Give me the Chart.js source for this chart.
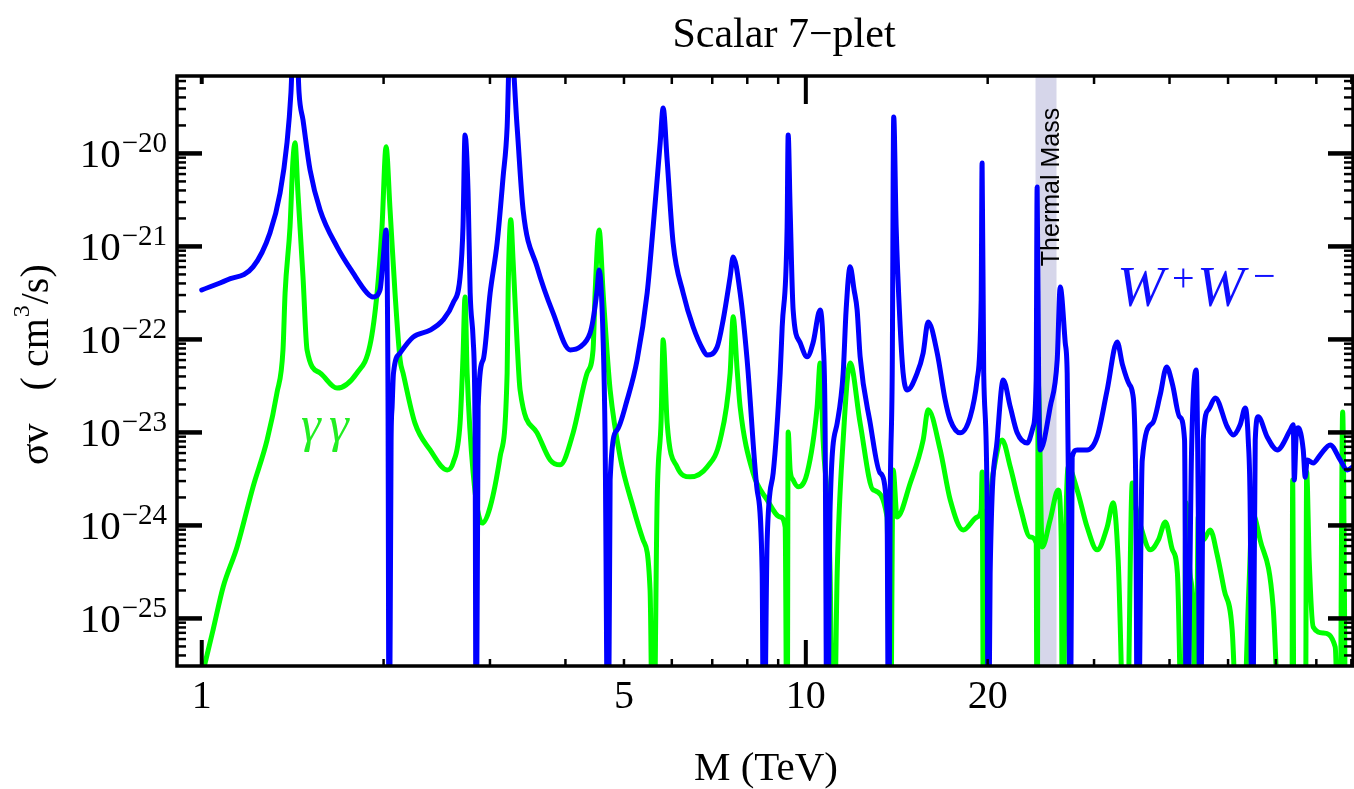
<!DOCTYPE html>
<html>
<head>
<meta charset="utf-8">
<script src="https://cdn.jsdelivr.net/npm/chart.js@4.4.1/dist/chart.umd.min.js"></script>
<style>
html,body{margin:0;padding:0;background:#ffffff;}
canvas{display:block;}
</style>
</head>
<body>
<canvas id="c" width="1354" height="789"></canvas>
<script>
// ---------------- data (M in TeV, sigma v in cm^3/s) ----------------
const massWW = [1.000,1.101,1.216,1.297,1.348,1.384,1.405,1.427,1.449,1.471,1.511,1.570,1.675,1.780,1.878,1.921,1.973,1.996,2.019,2.034,2.043,2.058,2.066,2.077,2.130,2.238,2.388,2.509,2.607,2.677,2.707,2.728,2.760,2.782,2.814,2.835,2.846,2.868,2.923,3.002,3.083,3.154,3.203,3.239,3.327,3.404,3.590,3.815,4.073,4.231,4.394,4.444,4.513,4.548,4.618,4.653,4.707,4.743,4.871,5.060,5.257,5.462,5.588,5.740,5.805,5.894,6.030,6.265,6.509,6.761,6.865,7.132,7.297,7.494,7.581,7.785,7.995,8.306,8.467,8.514,8.630,8.830,9.069,9.138,9.312,9.349,9.420,9.528,9.786,10.05,10.28,10.56,10.68,10.76,10.85,10.97,11.27,11.53,11.66,11.84,12.02,12.16,12.30,12.78,13.27,13.63,13.71,13.79,13.90,13.98,14.11,14.33,14.49,14.72,15.29,15.64,15.94,16.50,17.01,17.34,18.01,18.71,19.21,19.51,19.58,19.70,19.96,20.04,20.19,20.74,21.22,21.80,22.38,23.25,23.79,24.06,24.15,24.29,24.43,25.38,26.07,26.37,26.88,27.08,27.24,27.39,27.60,28.13,29.22,30.36,31.54,32.76,33.44,34.35,34.74,35.15,35.42,36.05,37.50,38.60,39.56,40.47,41.57,42.36,42.68,43.51,44.29,44.63,44.97,45.49,46.37,47.62,49.84,51.00,52.36,53.38,54.00,54.41,54.83,55.46,56.09,58.04,60.30,63.38,64.11,64.35,64.84,65.34,66.59,67.10,67.61,69.17,71.04,73.81,76.67,78.75,80.87];
const sigmaWW = [3.40e-22,4.36e-22,6.03e-22,1.40e-21,3.76e-21,1.30e-20,4.5e-20,5e-19,4.5e-20,2.29e-20,6.65e-21,2.47e-21,9.9e-22,5.19e-22,3.16e-22,2.86e-22,3.40e-22,7.16e-22,1.50e-21,2.23e-23,1e-27,8.1e-24,1.88e-23,4.36e-23,7.16e-23,1.06e-22,1.26e-22,1.62e-22,2.47e-22,4.70e-22,1.62e-21,1.58e-20,3.76e-21,3.16e-22,9.9e-23,8.3e-24,1e-27,1.88e-23,6.03e-23,3.16e-22,1.09e-21,5.58e-21,1.93e-20,2e-19,1.93e-20,2.47e-21,6.03e-22,1.93e-22,7.71e-23,8.3e-23,1.17e-22,1.62e-22,3.40e-22,5.58e-22,9.9e-23,8.3e-24,1e-27,3.08e-24,1.06e-23,2.23e-23,6.03e-23,3.16e-22,1.62e-21,1.30e-20,3.08e-20,8.5e-21,1.09e-21,3.16e-22,1.36e-22,7.71e-23,6.8e-23,8.3e-23,1.62e-22,4.70e-22,7.71e-22,3.16e-22,6.03e-23,2.41e-24,3.08e-25,1e-27,6.98e-25,3.66e-24,4.36e-23,1.36e-22,1.62e-21,1.58e-20,2.47e-21,2.07e-22,9.2e-23,6.5e-23,9.2e-23,2.07e-22,9.2e-23,1.36e-23,1e-27,1.58e-24,1.26e-23,4.36e-23,2.07e-22,6.03e-22,3.40e-22,2.07e-22,6.5e-23,1.26e-23,3.66e-24,1.36e-24,1e-27,1.58e-24,4.36e-23,2.47e-20,1.62e-21,1.36e-22,4.36e-23,2.86e-23,4.36e-23,7.16e-23,1.54e-22,7.16e-23,2.23e-23,1.36e-23,9.9e-24,1.47e-23,3.67e-23,2.66e-22,7.9e-21,4.36e-23,1.58e-24,1e-27,3.08e-25,8.3e-24,3.67e-23,1.88e-23,9.9e-24,7.71e-24,1.15e-23,3.67e-23,4.36e-21,3.4e-23,6.49e-24,1.88e-23,6.03e-23,3.67e-22,9.2e-23,4.36e-23,1.58e-24,1e-27,5.46e-24,6.49e-24,6.49e-24,8.95e-24,2.86e-23,9.4e-23,5.32e-23,3.25e-23,2.66e-23,3.66e-24,1e-27,5.06e-24,1.26e-23,2.53e-23,5.06e-23,3.25e-23,1.47e-23,8.3e-24,1e-27,6.49e-24,4.70e-23,1.58e-24,1e-27,8.3e-24,1.75e-23,2.35e-23,1.15e-23,9.4e-24,1.21e-23,1.83e-23,8.3e-24,1.36e-24,1e-27,8.3e-24,1.47e-23,8.95e-24,6.49e-24,1.06e-23,1.21e-23,3.08e-24,9.4e-24,1.12e-23,6.49e-24,3.3e-24,5.06e-24,4.70e-24,5.73e-24,7.34e-24,5.06e-24,3.95e-24,4.36e-24];

const massGG = [1.000,1.013,1.044,1.085,1.144,1.216,1.283,1.332,1.363,1.374,1.400,1.416,1.427,1.443,1.471,1.494,1.570,1.675,1.807,1.899,1.951,1.988,2.019,2.050,2.089,2.130,2.154,2.254,2.388,2.548,2.607,2.677,2.707,2.728,2.750,2.814,2.912,3.002,3.118,3.203,3.215,3.248,3.276,3.327,3.365,3.590,3.774,3.920,4.119,4.345,4.444,4.479,4.548,4.618,4.689,4.743,4.927,5.176,5.378,5.523,5.588,5.674,5.761,5.805,5.894,6.123,6.433,6.865,7.213,7.494,7.581,7.697,7.785,8.180,8.630,9.069,9.243,9.312,9.349,9.420,9.528,9.711,10.05,10.44,10.56,10.68,10.97,11.10,11.27,11.53,11.84,12.30,12.93,13.63,13.79,13.95,14.16,14.89,15.64,15.94,16.69,17.34,18.22,19.21,19.51,19.58,19.70,19.89,20.19,20.42,21.13,21.80,22.64,23.52,24.06,24.15,24.25,24.62,25.38,26.17,26.47,26.62,26.88,27.19,28.13,29.22,30.36,31.54,32.27,32.89,33.90,34.71,35.12,35.79,37.19,38.34,39.38,40.45,41.22,42.14,42.61,43.24,43.81,44.15,44.63,45.49,46.71,47.97,49.27,50.79,52.36,54.20,54.83,56.51,59.37,61.68,63.74,63.96,64.35,67.10,67.47,68.12,69.17,71.86,75.22,76.50,77.39,78.50,80.87];
const sigmaGG = [2.4e-26,3.33e-26,7.5e-26,2.18e-25,5.87e-25,2.6e-24,8.3e-24,2.66e-23,7.71e-23,3.16e-22,1.62e-21,8.5e-21,1.30e-20,3.76e-21,4.70e-22,7.71e-23,4.36e-23,3.0e-23,4.36e-23,8.7e-23,3.16e-22,1.62e-21,1.18e-20,2.47e-21,3.16e-22,6.03e-23,4.36e-23,1.26e-23,6.49e-24,3.95e-24,4.70e-24,1.26e-23,6.5e-23,2.86e-22,4.36e-23,3.66e-24,1.06e-24,1.58e-24,5.46e-24,4.36e-23,3.16e-22,1.93e-21,7.16e-22,9.2e-23,2.86e-23,9.9e-24,5.06e-24,4.48e-24,9.9e-24,4.36e-23,7.71e-23,3.16e-22,1.50e-21,3.16e-22,7.16e-23,2.86e-23,5.46e-24,1.58e-24,6.98e-25,2.02e-25,1e-27,1.88e-24,1.36e-23,9.9e-23,1.26e-23,4.26e-24,3.33e-24,4.26e-24,8.3e-24,4.36e-23,1.75e-22,4.70e-23,1.88e-23,3.66e-24,1.88e-24,1.23e-24,9.6e-25,1e-27,1.01e-23,3.95e-24,3.08e-24,2.6e-24,3.66e-24,1.88e-23,5.58e-23,8.3e-24,3.08e-25,1e-27,3.08e-25,8.3e-24,5.58e-23,1.26e-23,2.41e-24,1.23e-24,1e-27,3.95e-24,1.23e-24,2.86e-24,8.3e-24,1.75e-23,6.49e-24,1.88e-24,8.95e-25,1.23e-24,1.47e-24,3.76e-24,1e-27,8.95e-25,2.13e-24,3.66e-24,8.3e-24,4.26e-24,1.58e-24,7.5e-25,6.49e-25,1e-27,3.40e-23,5.87e-25,1.15e-24,2.41e-24,6.98e-25,1e-27,4.26e-25,4.26e-24,2.41e-24,9.6e-25,5.46e-25,9.6e-25,1.75e-24,4.26e-25,1e-27,2.86e-24,1.66e-24,1.01e-24,5.46e-25,6.98e-25,1.09e-24,5.46e-25,3.08e-25,1e-27,1.75e-24,3.08e-25,9.6e-26,1e-27,1.23e-24,6.98e-25,8.95e-25,4.82e-25,2.02e-25,7.5e-26,1e-27,2.6e-25,1.36e-24,6.98e-25,1.33e-25,1e-27,1e-27,3.08e-24,1e-27,1e-27,3.76e-24,4.26e-25,8.1e-26,6.98e-26,4.94e-26,1e-27,1.66e-23,1e-27,1e-27];

const xTickValues = [1, 5, 10, 20];
const xTickLabels = ['1', '5', '10', '20'];
const yTickExponents = [-20, -21, -22, -23, -24, -25];
const thermalMassRange = [24, 26];
const xRange = [0.91, 80.5];
const yRange = [3.08e-26, 6.8e-20];

const titleText = 'Scalar 7\u2212plet';
const xTitleText = 'M (TeV)';

// ---------------- plugins ----------------
const SERIF = '"Liberation Serif", "Times New Roman", serif';
const SANS = '"Liberation Sans", Arial, sans-serif';

const bandPlugin = {
  id: 'thermalBand',
  beforeDatasetsDraw(chart) {
    const {ctx, chartArea: a, scales: {x}} = chart;
    const x0 = x.getPixelForValue(thermalMassRange[0]);
    const x1 = x.getPixelForValue(thermalMassRange[1]);
    ctx.save();
    ctx.fillStyle = '#d6d6ea';
    ctx.fillRect(x0, a.top, x1 - x0, a.bottom - a.top);
    ctx.restore();
  },
  afterDatasetsDraw(chart) {
    const {ctx, scales: {x}} = chart;
    const x1 = x.getPixelForValue(thermalMassRange[1]);
    ctx.save();
    ctx.translate(x1 + 2, 187);
    ctx.rotate(-Math.PI / 2);
    ctx.font = '25px ' + SANS;
    ctx.fillStyle = '#000';
    ctx.textAlign = 'center';
    ctx.textBaseline = 'alphabetic';
    ctx.fillText('Thermal Mass', 0, 0);
    ctx.restore();
  }
};

function line(ctx, x0, y0, x1, y1) { ctx.beginPath(); ctx.moveTo(x0, y0); ctx.lineTo(x1, y1); ctx.stroke(); }

const decorPlugin = {
  id: 'decor',
  afterDatasetsDraw(chart) {
    const {ctx, chartArea: a, scales: {x, y}} = chart;
    ctx.save();
    ctx.strokeStyle = '#000';
    ctx.fillStyle = '#000';
    // x ticks
    for (let d = 0; d <= 1; d++) {
      for (let k = 1; k <= 9; k++) {
        const v = k * Math.pow(10, d);
        if (v < xRange[0] || v > xRange[1]) continue;
        const px = x.getPixelForValue(v);
        const major = (k === 1);
        ctx.lineWidth = major ? 4 : 2.5;
        line(ctx, px, a.bottom, px, a.bottom - (major ? 26 : 7));
        const topLen = (major && d === 1) ? 28 : 8;
        line(ctx, px, a.top, px, a.top + topLen);
      }
    }
    // y ticks
    for (let e = -26; e <= -20; e++) {
      for (let k = 1; k <= 9; k++) {
        const v = Number(k + 'e' + e);
        if (v < yRange[0] || v > yRange[1]) continue;
        const py = y.getPixelForValue(v);
        const major = (k === 1);
        ctx.lineWidth = major ? 4.5 : 2.5;
        const len = major ? 25 : 9;
        line(ctx, a.left, py, a.left + len, py);
        line(ctx, a.right, py, a.right - len, py);
      }
    }
    // frame
    ctx.lineWidth = 3.5;
    ctx.strokeRect(a.left, a.top, a.right - a.left, a.bottom - a.top);

    // y tick labels 10^-n
    for (const e of yTickExponents) {
      const py = y.getPixelForValue(Number('1e' + e));
      ctx.textBaseline = 'alphabetic';
      ctx.textAlign = 'right';
      ctx.font = '29px ' + SERIF;
      const expStr = '\u2212' + Math.abs(e);
      ctx.fillText(expStr, 167, py - 1);
      const w = ctx.measureText(expStr).width;
      ctx.font = '41px ' + SERIF;
      ctx.fillText('10', 167 - w - 1, py + 14);
    }
    // x tick labels
    ctx.font = '40px ' + SERIF;
    ctx.textAlign = 'center';
    ctx.textBaseline = 'alphabetic';
    xTickValues.forEach((v, i) => {
      ctx.fillText(xTickLabels[i], x.getPixelForValue(v), 708);
    });
    // x title
    ctx.font = '41px ' + SERIF;
    ctx.fillText(xTitleText, 766, 780);
    // title
    ctx.font = '42px ' + SERIF;
    ctx.fillText(titleText, 784, 47);

    // y title (rotated)
    ctx.save();
    ctx.translate(48, 465);
    ctx.rotate(-Math.PI / 2);
    ctx.textAlign = 'left';
    ctx.font = '40px ' + SERIF;
    let cx = 0;
    ctx.fillText('\u03c3v', cx, 0);
    cx += ctx.measureText('\u03c3v').width + 33;
    ctx.fillText('( cm', cx, 0);
    cx += ctx.measureText('( cm').width + 1;
    ctx.font = '24px ' + SERIF;
    ctx.fillText('3', cx, -19);
    cx += ctx.measureText('3').width + 1;
    ctx.font = '40px ' + SERIF;
    ctx.fillText('/s)', cx, 0);
    ctx.restore();

    // curve labels
    ctx.textAlign = 'left';
    ctx.fillStyle = '#22ee22';
    ctx.font = 'italic 50px ' + SERIF;
    ctx.fillText('\u03b3', 301, 441);
    ctx.fillText('\u03b3', 329, 441);

    ctx.fillStyle = '#1010ff';
    ctx.font = 'italic 57px ' + SERIF;
    ctx.fillText('W', 1117, 306);
    ctx.fillText('W', 1197, 306);
    ctx.font = '40px ' + SERIF;
    ctx.fillText('+', 1172, 291);
    ctx.fillText('\u2212', 1253, 289);
    ctx.restore();
  }
};

// ---------------- chart ----------------
const toPoints = (xs, ys) => xs.map((m, i) => ({x: m, y: ys[i]}));

new Chart(document.getElementById('c').getContext('2d'), {
  type: 'line',
  data: {
    datasets: [
      {
        label: 'W+W\u2212',
        data: toPoints(massWW, sigmaWW),
        borderColor: '#0000ff',
        borderWidth: 5,
        pointRadius: 0,
        fill: false,
        cubicInterpolationMode: 'monotone',
        borderJoinStyle: 'round',
        borderCapStyle: 'round',
        order: 0
      },
      {
        label: '\u03b3\u03b3',
        data: toPoints(massGG, sigmaGG),
        borderColor: '#00ff00',
        borderWidth: 5,
        pointRadius: 0,
        fill: false,
        cubicInterpolationMode: 'monotone',
        borderJoinStyle: 'round',
        borderCapStyle: 'round',
        order: 1
      }
    ]
  },
  options: {
    responsive: false,
    animation: false,
    devicePixelRatio: 1,
    events: [],
    layout: {padding: {left: 177, top: 76, right: 1, bottom: 123}},
    scales: {
      x: {type: 'logarithmic', min: xRange[0], max: xRange[1], display: false},
      y: {type: 'logarithmic', min: yRange[0], max: yRange[1], display: false}
    },
    plugins: {
      legend: {display: false},
      tooltip: {enabled: false},
      title: {display: false}
    }
  },
  plugins: [bandPlugin, decorPlugin]
});
</script>
</body>
</html>
